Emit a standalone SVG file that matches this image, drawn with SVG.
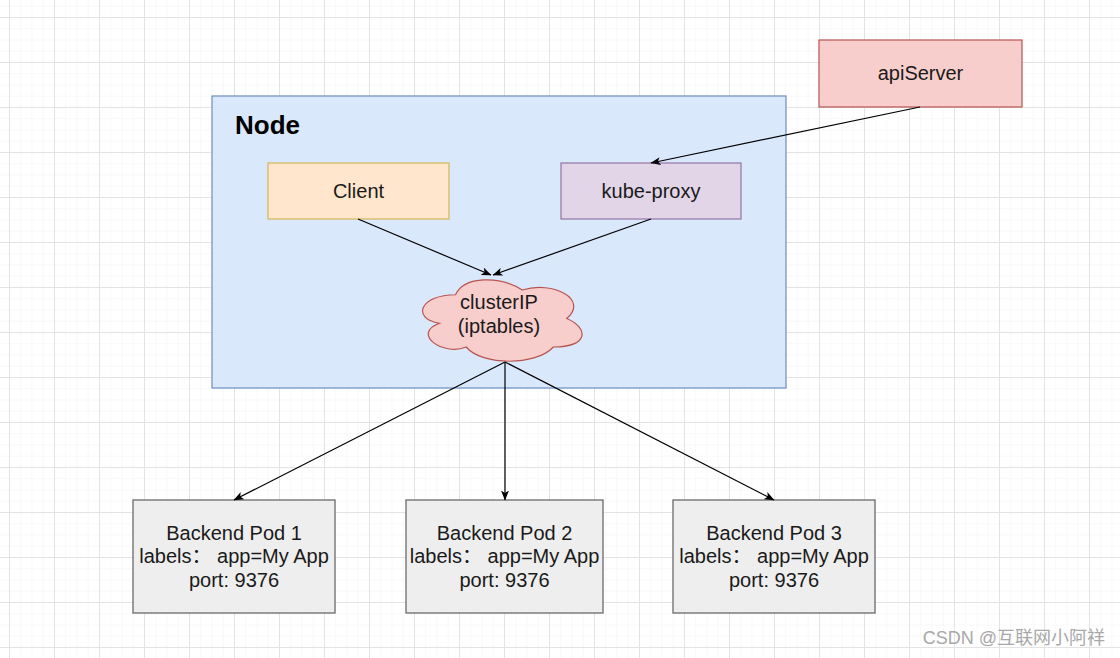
<svg xmlns="http://www.w3.org/2000/svg" width="1120" height="658" viewBox="0 0 1120 658">
  <defs>
    <pattern id="minor" patternUnits="userSpaceOnUse" x="9" y="17" width="11.25" height="11.25">
      <path d="M0,0 H11.25 M0,0 V11.25" fill="none" stroke="#f2f2f2" stroke-width="1"/>
    </pattern>
    <pattern id="major" patternUnits="userSpaceOnUse" x="9" y="17" width="45" height="45">
      <path d="M0,0.5 H45 M0.5,0 V45" fill="none" stroke="#e3e3e3" stroke-width="1"/>
    </pattern>
    <marker id="arrow" viewBox="0 0 10 8" refX="9.5" refY="4" markerWidth="10" markerHeight="8" orient="auto" markerUnits="userSpaceOnUse">
      <path d="M0,0 L10,4 L0,8 L2.5,4 Z" fill="#000"/>
    </marker>
    <style>
      .t { font-family: "Liberation Sans", Arial, "Noto Sans CJK SC", sans-serif; font-size: 20px; fill: #1a1a1a; text-anchor: middle; }
      .conn { stroke: #000; stroke-width: 1.2; fill: none; marker-end: url(#arrow); }
      .pod rect { fill: #eeeeee; stroke: #6b6b6b; stroke-width: 1.3; }
    </style>
  </defs>

  <rect x="0" y="0" width="1120" height="658" fill="#ffffff"/>
  <rect x="0" y="0" width="1120" height="658" fill="url(#minor)"/>
  <rect x="0" y="0" width="1120" height="658" fill="url(#major)"/>

  <g id="node-container">
    <rect x="212" y="96" width="574" height="292" fill="#dae8fc" stroke="#6c8ebf" stroke-width="1.2"/>
    <text x="235" y="134" style="font-family: 'Liberation Sans', Arial, sans-serif; font-size: 26px; font-weight: bold; fill: #000;">Node</text>
  </g>

  <g id="apiServer">
    <rect x="819" y="40" width="203" height="67" fill="#f8cecc" stroke="#b85450" stroke-width="1.2"/>
    <text class="t" x="920.5" y="80">apiServer</text>
  </g>

  <g id="client">
    <rect x="268" y="163" width="181" height="56" fill="#ffe6cc" stroke="#d6b656" stroke-width="1.2"/>
    <text class="t" x="358.5" y="198">Client</text>
  </g>

  <g id="kube-proxy">
    <rect x="561" y="163" width="180" height="56" fill="#e1d5e7" stroke="#9673a6" stroke-width="1.2"/>
    <text class="t" x="651" y="198">kube-proxy</text>
  </g>

  <g id="clusterIP">
    <path transform="translate(411,271) scale(1.78,0.95)" vector-effect="non-scaling-stroke" d="M25,25 C5,25 0,50 16,55 C0,66 18,90 31,80 C40,100 70,100 80,80 C100,80 100,60 87.5,50 C100,30 80,10 62.5,20 C50,5 30,5 25,25 Z" fill="#f8cecc" stroke="#b85450" stroke-width="1.2"/>
    <text class="t" x="499" y="309">clusterIP</text>
    <text class="t" x="499" y="333">(iptables)</text>
  </g>

  <g id="pod1" class="pod">
    <rect x="133" y="500" width="202" height="113"/>
    <text class="t" x="234" y="540">Backend Pod 1</text>
    <text class="t" x="234" y="563">labels： app=My App</text>
    <text class="t" x="234" y="587">port: 9376</text>
  </g>

  <g id="pod2" class="pod">
    <rect x="406" y="500" width="197" height="113"/>
    <text class="t" x="504.5" y="540">Backend Pod 2</text>
    <text class="t" x="504.5" y="563">labels： app=My App</text>
    <text class="t" x="504.5" y="587">port: 9376</text>
  </g>

  <g id="pod3" class="pod">
    <rect x="673" y="500" width="202" height="113"/>
    <text class="t" x="774" y="540">Backend Pod 3</text>
    <text class="t" x="774" y="563">labels： app=My App</text>
    <text class="t" x="774" y="587">port: 9376</text>
  </g>

  <g id="connectors">
    <line class="conn" x1="920" y1="107" x2="651" y2="163"/>
    <line class="conn" x1="358" y1="219" x2="491" y2="275"/>
    <line class="conn" x1="651" y1="219" x2="493" y2="275"/>
    <line class="conn" x1="505" y1="362" x2="234" y2="500"/>
    <line class="conn" x1="505" y1="362" x2="505" y2="500"/>
    <line class="conn" x1="505" y1="362" x2="774" y2="500"/>
  </g>

  <text x="1105" y="644" style="font-family: 'Liberation Sans', 'Noto Sans CJK SC', sans-serif; font-size: 18px; fill: #a8a8a8; text-anchor: end;">CSDN @互联网小阿祥</text>
</svg>
